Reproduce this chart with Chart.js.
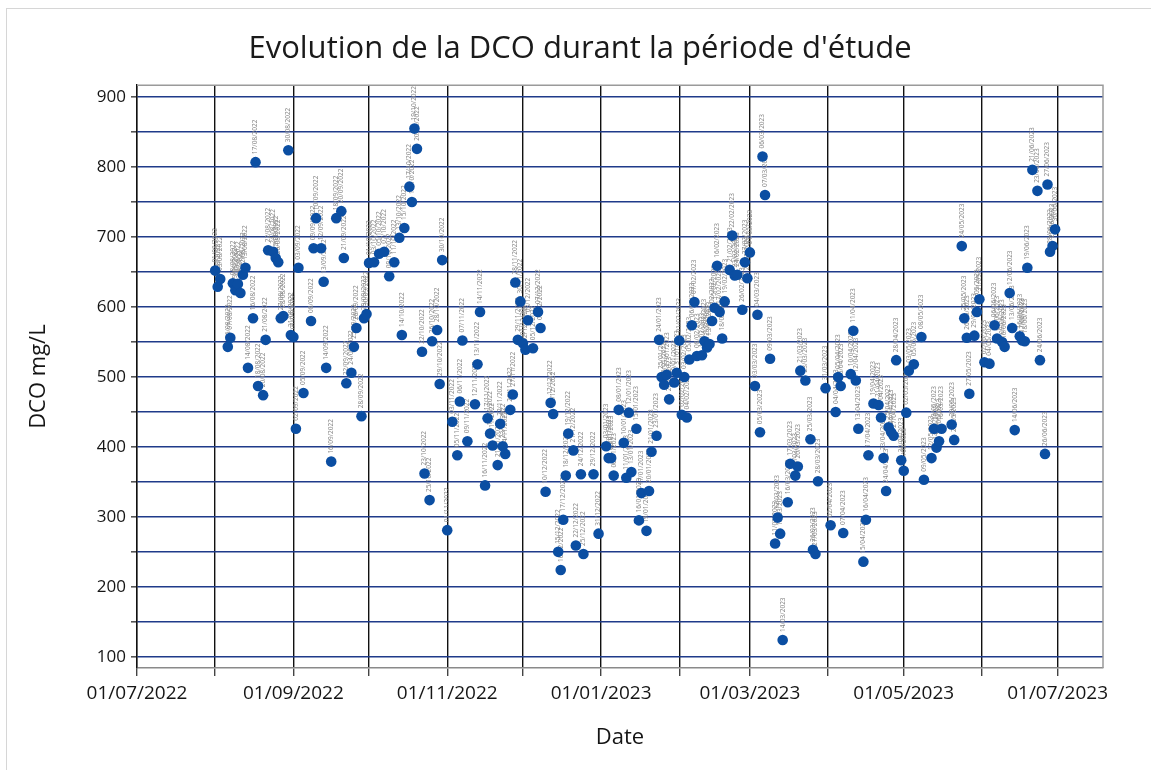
<!DOCTYPE html>
<html lang="fr">
<head>
<meta charset="utf-8">
<title>Evolution de la DCO</title>
<script src="https://cdn.jsdelivr.net/npm/chart.js@4.4.1/dist/chart.umd.min.js"></script>
<style>
  html, body { margin: 0; padding: 0; background: #fff; }
  #frame { position: absolute; left: 6px; top: 8px; width: 1200px; height: 800px; border: 1px solid #d6d6d6; }
  #wrap { position: absolute; left: 0; top: 0; width: 1151px; height: 770px; }
</style>
</head>
<body>
<div id="frame"></div>
<div id="wrap"><canvas id="dcoChart"></canvas></div>
<script>
// sampling dates and DCO (mg/L)
const dates = [
  '2022-08-01','2022-08-02','2022-08-03','2022-08-06','2022-08-07','2022-08-08','2022-08-09','2022-08-10','2022-08-11','2022-08-12',
  '2022-08-13','2022-08-14','2022-08-16','2022-08-17','2022-08-18','2022-08-20','2022-08-21','2022-08-22','2022-08-24','2022-08-25',
  '2022-08-26','2022-08-27','2022-08-28','2022-08-30','2022-08-31','2022-09-01','2022-09-02','2022-09-03','2022-09-05','2022-09-08',
  '2022-09-09','2022-09-10','2022-09-12','2022-09-13','2022-09-14','2022-09-16','2022-09-18','2022-09-20','2022-09-21','2022-09-22',
  '2022-09-24','2022-09-25','2022-09-26','2022-09-28','2022-09-29','2022-09-30','2022-10-01','2022-10-03','2022-10-05','2022-10-07',
  '2022-10-09','2022-10-11','2022-10-13','2022-10-14','2022-10-15','2022-10-17','2022-10-18','2022-10-19','2022-10-20','2022-10-22',
  '2022-10-23','2022-10-25','2022-10-26','2022-10-28','2022-10-29','2022-10-30','2022-11-01','2022-11-03','2022-11-05','2022-11-06',
  '2022-11-07','2022-11-09','2022-11-12','2022-11-13','2022-11-14','2022-11-16','2022-11-17','2022-11-18','2022-11-19','2022-11-21',
  '2022-11-22','2022-11-23','2022-11-24','2022-11-26','2022-11-27','2022-11-28','2022-11-29','2022-11-30','2022-12-01','2022-12-02',
  '2022-12-03','2022-12-05','2022-12-07','2022-12-08','2022-12-10','2022-12-12','2022-12-13','2022-12-15','2022-12-16','2022-12-17',
  '2022-12-18','2022-12-19','2022-12-21','2022-12-22','2022-12-24','2022-12-25','2022-12-29','2022-12-31','2023-01-03','2023-01-04',
  '2023-01-05','2023-01-06','2023-01-08','2023-01-10','2023-01-11','2023-01-12','2023-01-13','2023-01-15','2023-01-16','2023-01-17',
  '2023-01-19','2023-01-20','2023-01-21','2023-01-23','2023-01-24','2023-01-25','2023-01-26','2023-01-27','2023-01-28','2023-01-30',
  '2023-01-31','2023-02-01','2023-02-02','2023-02-03','2023-02-04','2023-02-05','2023-02-06','2023-02-07','2023-02-08','2023-02-10',
  '2023-02-11','2023-02-12','2023-02-13','2023-02-14','2023-02-15','2023-02-16','2023-02-17','2023-02-18','2023-02-19','2023-02-21',
  '2023-02-22','2023-02-23','2023-02-24','2023-02-26','2023-02-27','2023-02-28','2023-03-01','2023-03-03','2023-03-04','2023-03-05',
  '2023-03-06','2023-03-07','2023-03-09','2023-03-11','2023-03-12','2023-03-13','2023-03-14','2023-03-16','2023-03-17','2023-03-19',
  '2023-03-20','2023-03-21','2023-03-23','2023-03-25','2023-03-26','2023-03-27','2023-03-28','2023-03-31','2023-04-02','2023-04-04',
  '2023-04-05','2023-04-06','2023-04-07','2023-04-10','2023-04-11','2023-04-12','2023-04-13','2023-04-15','2023-04-16','2023-04-17',
  '2023-04-19','2023-04-21','2023-04-22','2023-04-23','2023-04-24','2023-04-25','2023-04-26','2023-04-27','2023-04-28','2023-04-30',
  '2023-05-01','2023-05-02','2023-05-03','2023-05-05','2023-05-08','2023-05-09','2023-05-12','2023-05-13','2023-05-14','2023-05-15',
  '2023-05-16','2023-05-20','2023-05-21','2023-05-24','2023-05-25','2023-05-26','2023-05-27','2023-05-29','2023-05-30','2023-05-31',
  '2023-06-02','2023-06-04','2023-06-06','2023-06-07','2023-06-09','2023-06-10','2023-06-12','2023-06-13','2023-06-14','2023-06-16',
  '2023-06-17','2023-06-18','2023-06-19','2023-06-21','2023-06-23','2023-06-24','2023-06-26','2023-06-27','2023-06-28','2023-06-29',
  '2023-06-30'
];
const dco = [
  652, 629, 640, 543, 556, 634, 624, 633, 620, 646,
  656, 513, 584, 807, 487, 474, 553, 681, 679, 670,
  664, 584, 587, 824, 560, 557, 426, 656, 477, 580,
  684, 727, 684, 636, 513, 379, 727, 737, 670, 491,
  506, 543, 570, 444, 584, 590, 663, 664, 676, 679,
  644, 664, 699, 560, 713, 772, 750, 855, 826, 536,
  362, 324, 551, 567, 490, 667, 281, 436, 388, 465,
  552, 408, 461, 518, 593, 345, 441, 419, 402, 374,
  433, 401, 390, 453, 475, 635, 553, 608, 548, 539,
  581, 541, 593, 570, 336, 463, 447, 250, 224, 296,
  359, 419, 395, 259, 361, 247, 361, 276, 401, 384,
  384, 359, 453, 406, 356, 449, 364, 426, 295, 334,
  280, 337, 393, 416, 553, 500, 489, 503, 468, 492,
  506, 552, 446, 500, 442, 525, 574, 607, 530, 531,
  551, 542, 547, 580, 599, 659, 593, 555, 608, 653,
  702, 645, 646, 596, 664, 641, 678, 487, 589, 421,
  815, 760, 526, 262, 299, 276, 124, 321, 376, 359,
  372, 509, 495, 411, 253, 247, 351, 484, 288, 450,
  500, 487, 277, 504, 566, 495, 426, 236, 296, 388,
  462, 460, 442, 384, 337, 428, 421, 416, 524, 381,
  366, 449, 509, 518, 557, 353, 384, 426, 399, 408,
  426, 432, 410, 687, 584, 556, 476, 559, 593, 611,
  521, 519, 574, 555, 550, 543, 620, 570, 424, 558,
  552, 551, 656, 796, 766, 524, 390, 775, 679, 687,
  711
];

// axis ticks
const monthTicks = [
  '2022-07-01','2022-08-01','2022-09-01','2022-10-01','2022-11-01','2022-12-01','2023-01-01',
  '2023-02-01','2023-03-01','2023-04-01','2023-05-01','2023-06-01','2023-07-01'
];
const xTickLabels = [
  '01/07/2022','','01/09/2022','','01/11/2022','','01/01/2023',
  '','01/03/2023','','01/05/2023','','01/07/2023'
];
const yTicks = [100,150,200,250,300,350,400,450,500,550,600,650,700,750,800,850,900];
const xRange = ['2022-07-01', '2023-07-19'];
const yRange = [84, 917];

const toMs = s => Date.parse(s + 'T00:00:00Z');
const frDate = s => s.slice(8, 10) + '/' + s.slice(5, 7) + '/' + s.slice(0, 4);

// tiny rotated date above each point
const pointLabels = {
  id: 'pointLabels',
  beforeDatasetsDraw(chart) {
    const ctx = chart.ctx;
    const meta = chart.getDatasetMeta(0);
    ctx.save();
    ctx.font = '6.5px "Noto Sans", sans-serif';
    ctx.fillStyle = '#8a8a8a';
    ctx.textAlign = 'left';
    ctx.textBaseline = 'middle';
    meta.data.forEach((pt, i) => {
      ctx.save();
      ctx.translate(pt.x, pt.y - 8);
      ctx.rotate(-Math.PI / 2);
      ctx.fillText(frDate(dates[i]), 0, 0);
      ctx.restore();
    });
    ctx.restore();
  }
};

// grey top/right edge of the plot box
const plotFrame = {
  id: 'plotFrame',
  beforeDatasetsDraw(chart) {
    const { ctx, chartArea: a } = chart;
    ctx.save();
    ctx.strokeStyle = '#9a9a9a';
    ctx.lineWidth = 1.5;
    ctx.beginPath();
    ctx.moveTo(a.left, a.top);
    ctx.lineTo(a.right, a.top);
    ctx.lineTo(a.right, a.bottom);
    ctx.stroke();
    ctx.restore();
  }
};

Chart.defaults.font.family = '"Open Sans", "Noto Sans", sans-serif';
Chart.defaults.color = '#151515';

new Chart(document.getElementById('dcoChart'), {
  type: 'scatter',
  data: {
    datasets: [{
      label: 'DCO mg/L',
      data: dates.map((d, i) => ({ x: toMs(d), y: dco[i] })),
      backgroundColor: '#0b4ea2',
      borderWidth: 0,
      pointRadius: 5.3,
      pointHoverRadius: 5.3
    }]
  },
  plugins: [pointLabels, plotFrame],
  options: {
    responsive: true,
    maintainAspectRatio: false,
    animation: false,
    layout: { padding: { left: 9, right: 0, top: 0, bottom: 0 } },
    plugins: {
      legend: { display: false },
      tooltip: { enabled: false },
      title: {
        display: true,
        text: "Evolution de la DCO durant la période d'étude",
        color: '#1a1a1a',
        font: { size: 31, weight: 'normal' },
        padding: { top: 31, bottom: 17 }
      }
    },
    scales: {
      x: {
        type: 'linear',
        min: toMs(xRange[0]),
        max: toMs(xRange[1]),
        afterBuildTicks: s => { s.ticks = monthTicks.map(m => ({ value: toMs(m) })); },
        afterFit: s => { s.height = 102; },
        ticks: {
          autoSkip: false,
          maxRotation: 0,
          padding: 6,
          font: { size: 19 },
          callback: (v, i) => xTickLabels[i]
        },
        grid: { color: '#111', lineWidth: 1.4, tickLength: 8, tickColor: '#444' },
        border: { color: '#8a8a8a', width: 1.5 },
        title: { display: true, text: 'Date', font: { size: 22 }, padding: { top: 4, bottom: 19 } }
      },
      y: {
        min: yRange[0],
        max: yRange[1],
        afterBuildTicks: s => { s.ticks = yTicks.map(v => ({ value: v })); },
        afterFit: s => { s.width = 128; },
        ticks: {
          padding: 5,
          font: { size: 17 },
          callback: v => (v % 100 === 0 ? v : '')
        },
        grid: { color: '#1f3b8a', lineWidth: 1.6, tickLength: 6, tickColor: '#555' },
        border: { color: '#111', width: 1.4 },
        title: { display: true, text: 'DCO mg/L', font: { size: 22 }, padding: { top: 17 } }
      },
      pad: {
        type: 'linear',
        position: 'right',
        display: true,
        grid: { display: false },
        ticks: { display: false },
        border: { display: false },
        afterFit: s => { s.width = 48; }
      }
    }
  }
});
</script>
</body>
</html>
